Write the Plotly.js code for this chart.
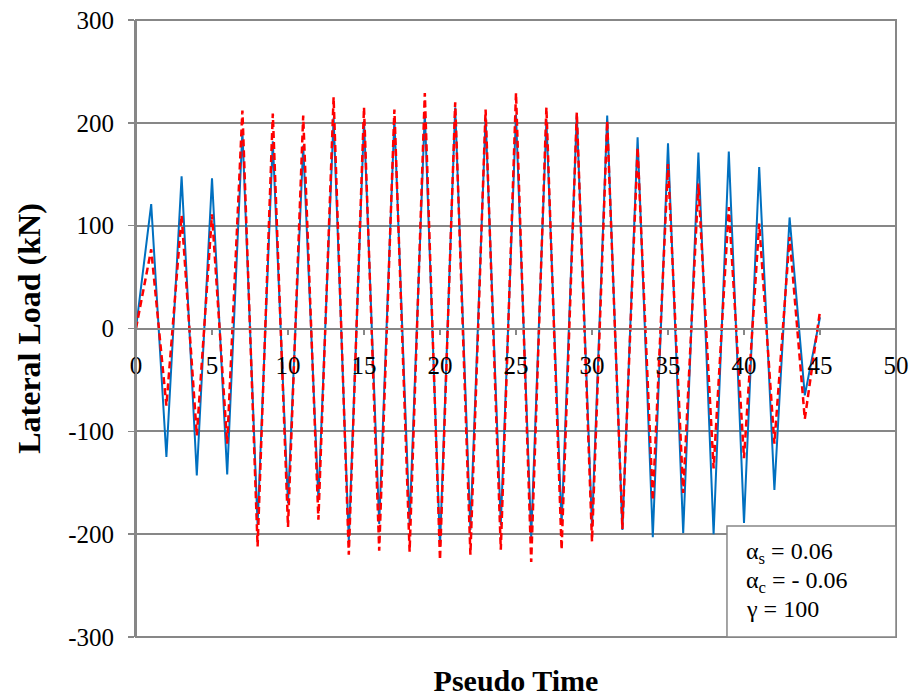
<!DOCTYPE html>
<html>
<head>
<meta charset="utf-8">
<script src="https://cdn.plot.ly/plotly-3.0.1.min.js"></script>
<style>html,body{margin:0;padding:0;background:#fff;}#chart{width:917px;height:698px;}</style>
</head>
<body>
<div id="chart"></div>
<script>
const pseudoTime = [0,1,2,3,4,5,6,7,8,9,10,11,12,13,14,15,16,17,18,19,20,21,22,23,24,25,26,27,28,29,30,31,32,33,34,35,36,37,38,39,40,41,42,43,44,45];
const blueLoad = [0,121,-125,148,-143,146,-142,192,-191,182,-170,178,-167,205,-207,202,-190,204,-190,210,-212,215,-196,205,-191,208,-203,203,-191,208,-193,207,-196,186,-203,180,-199,171,-200,172,-189,157,-157,108,-65,11];
const redLoad = [0,77,-75,110,-104,111,-112,212,-212,209,-193,207,-186,225,-220,215,-216,213,-217,229,-225,220,-220,213,-215,229,-227,215,-215,210,-207,202,-195,176,-167,160,-160,141,-136,118,-126,102,-112,89,-88,17];
const yTickVals = [-300,-200,-100,0,100,200,300];
const yTickText = ['-300','-200','-100','0','100','200','300'];
const xTickVals = [0,5,10,15,20,25,30,35,40,45,50];
const xTickText = ['0','5','10','15','20','25','30','35','40','45','50'];
const boxLines = ['α<sub>s</sub> = 0.06', 'α<sub>c</sub> = - 0.06', 'γ = 100'];

const FONT = "'Liberation Serif', 'Times New Roman', Times, serif";
const GRID = '#878787';
const TICK_SIZE = 25;

const traces = [
  {x: pseudoTime, y: blueLoad, type: 'scatter', mode: 'lines', name: 'Blue',
   line: {color: '#0070C0', width: 2}},
  {x: pseudoTime, y: redLoad, type: 'scatter', mode: 'lines', name: 'Red',
   line: {color: '#FF0000', width: 2.5, dash: '7px,4px'}}
];

const lineTops = [0.163, 0.117, 0.070];
const annotations = boxLines.map((t, i) => ({
  xref: 'paper', yref: 'paper', x: 0.800, y: lineTops[i], xanchor: 'left', yanchor: 'top',
  text: t, showarrow: false, align: 'left',
  font: {family: FONT, size: 24, color: '#000'}
}));

const layout = {
  width: 917, height: 698,
  margin: {l: 136, r: 21, t: 20, b: 61},
  paper_bgcolor: '#ffffff', plot_bgcolor: '#ffffff',
  showlegend: false,
  font: {family: FONT, color: '#000', size: TICK_SIZE},
  xaxis: {
    range: [0, 50], anchor: 'free', position: 0.5,
    tickmode: 'array', tickvals: xTickVals, ticktext: xTickText,
    showgrid: false, zeroline: false,
    showline: true, linecolor: GRID, linewidth: 2,
    ticks: 'outside', ticklen: 5, tickwidth: 1.5, tickcolor: GRID,
    ticklabelstandoff: 9,
    tickfont: {family: FONT, size: TICK_SIZE, color: '#000'},
    title: {text: '<b>Pseudo Time</b>', font: {family: FONT, size: 30, color: '#000'}, standoff: 291},
    automargin: false, fixedrange: true
  },
  yaxis: {
    range: [-300, 300],
    tickmode: 'array', tickvals: yTickVals, ticktext: yTickText,
    showgrid: true, gridcolor: GRID, gridwidth: 2,
    zeroline: false,
    showline: true, linecolor: GRID, linewidth: 2,
    ticks: 'outside', ticklen: 6, tickwidth: 1.5, tickcolor: GRID,
    ticklabelstandoff: 9,
    tickfont: {family: FONT, size: TICK_SIZE, color: '#000'},
    title: {text: '<b>Lateral Load (kN)</b>', font: {family: FONT, size: 32, color: '#000'}, standoff: 18},
    automargin: false, fixedrange: true
  },
  shapes: [
    {type: 'rect', xref: 'paper', yref: 'paper', x0: 0, x1: 1, y0: 0, y1: 1,
     line: {color: GRID, width: 2}, fillcolor: 'rgba(0,0,0,0)', layer: 'above'},
    {type: 'rect', xref: 'paper', yref: 'paper', x0: 0.7776, x1: 1, y0: 0, y1: 0.18,
     line: {color: GRID, width: 1.5}, fillcolor: '#ffffff', layer: 'above'}
  ],
  annotations: annotations
};

Plotly.newPlot('chart', traces, layout, {displayModeBar: false, staticPlot: true});
</script>
</body>
</html>
